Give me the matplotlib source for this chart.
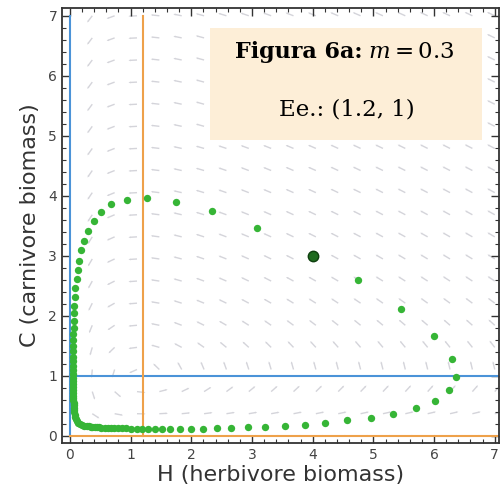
import numpy as np
import matplotlib
matplotlib.use("Agg")
import matplotlib.pyplot as plt
from matplotlib.ticker import MultipleLocator
from matplotlib.patches import Rectangle

# model: H' = r H (1 - C / c_eq),  C' = k C (H - h_eq)
r_h = 1.0
k_c = 0.5
h_eq = 1.2
c_eq = 1.0
m_val = 0.3

# trajectory (H, C)
h_vals = [4.00, 3.09, 2.34, 1.74, 1.27, 0.94, 0.68, 0.51, 0.39, 0.30, 0.23, 0.19, 0.15, 0.13, 0.11, 0.09, 0.08, 0.07,
          0.065, 0.06, 0.06, 0.055, 0.055, 0.05, 0.05, 0.05, 0.05, 0.05, 0.05, 0.05, 0.05, 0.05, 0.05, 0.05, 0.05,
          0.05, 0.05, 0.055, 0.055, 0.06, 0.06, 0.065, 0.07, 0.075, 0.08, 0.09, 0.10, 0.12, 0.14, 0.17, 0.20, 0.24,
          0.28, 0.31, 0.34, 0.37, 0.41, 0.44, 0.48, 0.52, 0.57, 0.62, 0.67, 0.73, 0.79, 0.86, 0.93, 1.01, 1.10,
          1.19, 1.29, 1.40, 1.52, 1.65, 1.82, 2.00, 2.19, 2.42, 2.66, 2.94, 3.22, 3.54, 3.87,
          4.20, 4.57, 4.96, 5.33, 5.70, 6.02, 6.25, 6.36, 6.29, 6.00, 5.45, 4.74]
c_vals = [3.00, 3.46, 3.74, 3.90, 3.96, 3.93, 3.86, 3.73, 3.58, 3.42, 3.25, 3.09, 2.92, 2.77, 2.61, 2.46, 2.31, 2.17,
          2.04, 1.92, 1.80, 1.69, 1.59, 1.50, 1.41, 1.32, 1.24, 1.17, 1.10, 1.03, 0.97, 0.91, 0.86, 0.81, 0.76,
          0.71, 0.67, 0.63, 0.59, 0.55, 0.51, 0.47, 0.43, 0.39, 0.35, 0.31, 0.28, 0.25, 0.22, 0.20, 0.18, 0.17,
          0.165, 0.16, 0.155, 0.15, 0.147, 0.144, 0.141, 0.138, 0.135, 0.133, 0.131, 0.129, 0.127, 0.125, 0.123,
          0.121, 0.12, 0.118, 0.117, 0.116, 0.115, 0.115, 0.115, 0.117, 0.12, 0.128, 0.13, 0.145, 0.15, 0.17, 0.185,
          0.21, 0.26, 0.30, 0.37, 0.46, 0.58, 0.76, 0.98, 1.28, 1.67, 2.12, 2.60]
start_point = (4.0, 3.0)

title_bold = "Figura 6a:"
title_math = r"$m = %.1f$" % m_val
eq_line = "Ee.: (1.2, 1)"
x_label = "H (herbivore biomass)"
y_label = "C (carnivore biomass)"

plt.rcParams['mathtext.fontset'] = 'dejavuserif'

fig = plt.figure(figsize=(5.01, 4.99), dpi=100)
ax = fig.add_axes([0.1238, 0.1122, 0.8722, 0.8718])

# direction field
grid = np.linspace(0, 7, 20)
HH, CC = np.meshgrid(grid, grid)
dH = r_h * HH * (1 - CC / c_eq)
dC = k_c * CC * (HH - h_eq)
norm = np.hypot(dH, dC)
norm[norm == 0] = 1
ax.quiver(HH, CC, dH / norm * 0.14, dC / norm * 0.14, angles='xy', scale_units='xy', scale=1,
          pivot='tail', color='#b8b8c2', alpha=0.6, width=0.0032,
          headwidth=1.5, headlength=1.5, headaxislength=1.5, zorder=1)

# nullclines
blue = '#4b93d8'
orange = '#eea14a'
ax.plot([0, 0], [0, 7], color=blue, lw=1.5, zorder=2)
ax.plot([0, 7.2], [c_eq, c_eq], color=blue, lw=1.5, zorder=2)
ax.plot([h_eq, h_eq], [0, 7], color=orange, lw=1.5, zorder=2)
ax.plot([0, 7.2], [0, 0], color=orange, lw=1.5, zorder=2)

# trajectory
ax.plot(h_vals, c_vals, 'o', color='#36b536', ms=5.3, mec='none', zorder=3)
ax.plot(*start_point, 'o', color='#1f6b1f', ms=7.5, mec='#0f3f0f', zorder=4)

ax.set_xlim(-0.13, 7.07)
ax.set_ylim(-0.12, 7.13)
ax.xaxis.set_major_locator(MultipleLocator(1))
ax.yaxis.set_major_locator(MultipleLocator(1))
ax.xaxis.set_minor_locator(MultipleLocator(0.2))
ax.yaxis.set_minor_locator(MultipleLocator(0.2))
ax.tick_params(which='both', direction='in', top=True, right=True, colors='#333333',
               labelsize=10, labelcolor='#444444')
ax.tick_params(which='major', length=6, width=1)
ax.tick_params(which='minor', length=3, width=0.8)
for sp in ax.spines.values():
    sp.set_color('#333333')
    sp.set_linewidth(1.3)

ax.set_xlabel(x_label, fontsize=16, color='#333333', labelpad=2)
ax.set_ylabel(y_label, fontsize=16, color='#333333', labelpad=6)

# annotation box
fig.patches.append(Rectangle((0.419, 0.719), 0.543, 0.224, transform=fig.transFigure,
                             facecolor='#fdeed7', edgecolor='none', zorder=5))
fig.text(0.7226, 0.896, title_bold, ha='right', va='center', fontsize=16,
         family='DejaVu Serif', weight='bold', zorder=6)
fig.text(0.7345, 0.896, title_math, ha='left', va='center', fontsize=16.5, zorder=6)
fig.text(0.693, 0.780, eq_line, ha='center', va='center', fontsize=16.5, family='DejaVu Serif', zorder=6)

fig.savefig('out.png', dpi=100)
